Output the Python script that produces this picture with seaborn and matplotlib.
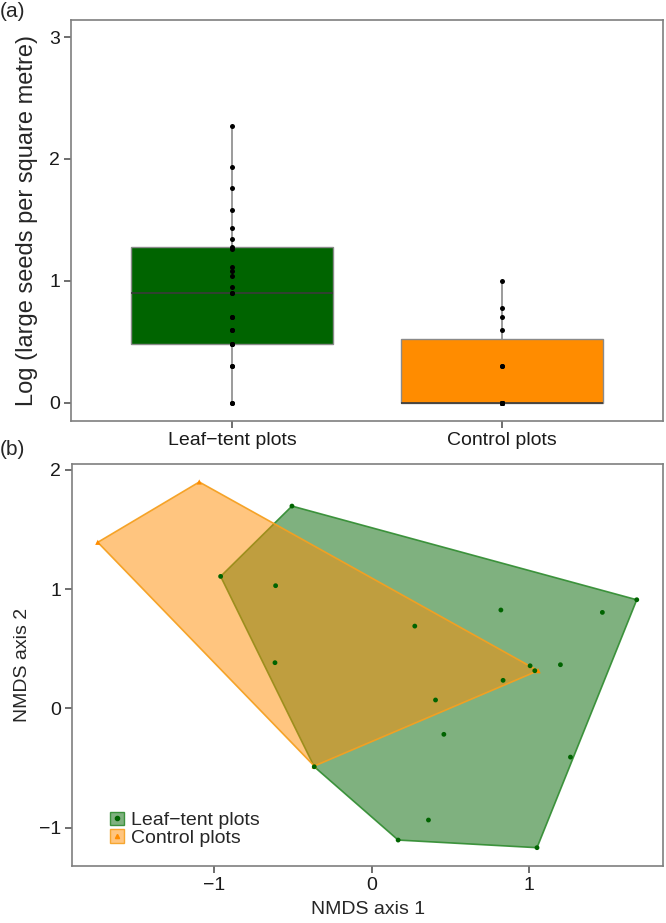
import numpy as np
import pandas as pd
import seaborn as sns
import matplotlib.pyplot as plt
from matplotlib.colors import to_rgba
from matplotlib.patches import Patch
from matplotlib.lines import Line2D

# Panel (a): log large seeds per square metre
groups = ["Leaf\u2212tent plots", "Control plots"]
leaf_vals = [0, 0, 0.30, 0.30, 0.48, 0.48, 0.48, 0.60, 0.60, 0.70, 0.70, 0.90, 0.90,
             0.95, 1.04, 1.08, 1.11, 1.26, 1.28, 1.34, 1.43, 1.58, 1.76, 1.93, 2.27]
ctrl_vals = [0, 0, 0, 0, 0, 0, 0, 0, 0.30, 0.30, 0.60, 0.70, 0.78, 1.00]
box_colors = ["#006400", "#FF8C00"]

# Panel (b): NMDS ordination
leaf_x = [-0.961, -0.507, 1.688, 1.266, 1.053, 0.169, -0.365, 0.275, 0.823, 1.469,
          1.009, 1.202, 1.039, 0.837, 0.407, 0.460, 0.362, -0.611, -0.615]
leaf_y = [1.107, 1.697, 0.911, -0.409, -1.169, -1.105, -0.490, 0.690, 0.825, 0.805,
          0.357, 0.366, 0.316, 0.235, 0.070, -0.218, -0.937, 1.029, 0.383]
ctrl_x = [-1.743, -1.097, 1.060, -0.365]
ctrl_y = [1.393, 1.899, 0.316, -0.484]


def convex_hull(xs, ys):
    pts = sorted(set(zip(xs, ys)))

    def cross(o, a, b):
        return (a[0] - o[0]) * (b[1] - o[1]) - (a[1] - o[1]) * (b[0] - o[0])

    lower, upper = [], []
    for p in pts:
        while len(lower) >= 2 and cross(lower[-2], lower[-1], p) <= 0:
            lower.pop()
        lower.append(p)
    for p in reversed(pts):
        while len(upper) >= 2 and cross(upper[-2], upper[-1], p) <= 0:
            upper.pop()
        upper.append(p)
    hull = lower[:-1] + upper[:-1]
    return [p[0] for p in hull], [p[1] for p in hull]


sns.set_theme(style="white")
plt.rcParams["font.family"] = ["Liberation Sans", "DejaVu Sans"]
plt.rcParams["axes.edgecolor"] = "#7f7f7f"
plt.rcParams["axes.linewidth"] = 1.2
plt.rcParams["xtick.color"] = "#555555"
plt.rcParams["ytick.color"] = "#555555"
plt.rcParams["xtick.labelcolor"] = "#1a1a1a"
plt.rcParams["ytick.labelcolor"] = "#1a1a1a"

fig = plt.figure(figsize=(6.66, 9.23), dpi=100)
ax1 = fig.add_axes([0.1066, 0.5439, 0.8889, 0.4344])
ax2 = fig.add_axes([0.1086, 0.0621, 0.8869, 0.4352])

df = pd.DataFrame({
    "group": [groups[0]] * len(leaf_vals) + [groups[1]] * len(ctrl_vals),
    "value": leaf_vals + ctrl_vals,
})

sns.boxplot(data=df, x="group", y="value", hue="group", order=groups,
            palette=box_colors, width=0.75, linewidth=1.0, linecolor="#8a8a8a",
            showcaps=False, showfliers=False, legend=False, saturation=1,
            medianprops=dict(color="#3a3a3a", linewidth=1.2),
            whiskerprops=dict(color="#8a8a8a", linewidth=1.2), ax=ax1)
sns.stripplot(data=df, x="group", y="value", order=groups, jitter=False,
              color="black", size=3.6, ax=ax1)

ax1.set_xlim(-0.596, 1.596)
ax1.set_ylim(-0.15, 3.14)
ax1.set_yticks([0, 1, 2, 3])
ax1.set_xlabel("")
ax1.set_ylabel("Log (large seeds per square metre)", fontsize=17, labelpad=8)
ax1.tick_params(axis="both", direction="out", length=5, width=1.2,
                labelsize=14, pad=3, left=True, bottom=True)

# Panel (b) hulls, then points on top
gx, gy = convex_hull(leaf_x, leaf_y)
cx, cy = convex_hull(ctrl_x, ctrl_y)
ax2.fill(gx, gy, facecolor=to_rgba("#006400", 0.5),
         edgecolor=to_rgba("#2e8b2e", 0.9), linewidth=1.2, zorder=1)
ax2.fill(cx, cy, facecolor=to_rgba("#FF8C00", 0.5),
         edgecolor=to_rgba("#f5a020", 0.95), linewidth=1.2, zorder=2)

sns.scatterplot(x=ctrl_x, y=ctrl_y, marker="^", color="#FF8C00", s=14,
                edgecolor="none", ax=ax2, zorder=3)
sns.scatterplot(x=leaf_x, y=leaf_y, marker="o", color="#006400", s=12,
                edgecolor="none", ax=ax2, zorder=4)

ax2.set_xlim(-1.905, 1.855)
ax2.set_ylim(-1.32, 2.05)
ax2.set_xticks([-1, 0, 1])
ax2.set_yticks([-1, 0, 1, 2])
ax2.set_xlabel("NMDS axis 1", fontsize=14, labelpad=5)
ax2.set_ylabel("NMDS axis 2", fontsize=14, labelpad=6)
ax2.tick_params(axis="both", direction="out", length=5, width=1.2,
                labelsize=14, pad=3, left=True, bottom=True)

handles = [
    (Patch(facecolor=to_rgba("#006400", 0.5), edgecolor=to_rgba("#2e8b2e", 0.9)),
     Line2D([], [], marker="o", color="#006400", linestyle="none", markersize=3)),
    (Patch(facecolor=to_rgba("#FF8C00", 0.5), edgecolor=to_rgba("#f5a020", 0.9)),
     Line2D([], [], marker="^", color="#FF8C00", linestyle="none", markersize=3)),
]
ax2.legend(handles, groups, loc="lower left", bbox_to_anchor=(0.064, 0.047),
           frameon=False, fontsize=14, handlelength=0.7, handleheight=0.7,
           handletextpad=0.35, labelspacing=0.0, borderpad=0, borderaxespad=0)

fig.text(0.0, 0.998, "(a)", fontsize=15, ha="left", va="top")
fig.text(0.0, 0.523, "(b)", fontsize=15, ha="left", va="top")

fig.savefig("out.png", dpi=100)
